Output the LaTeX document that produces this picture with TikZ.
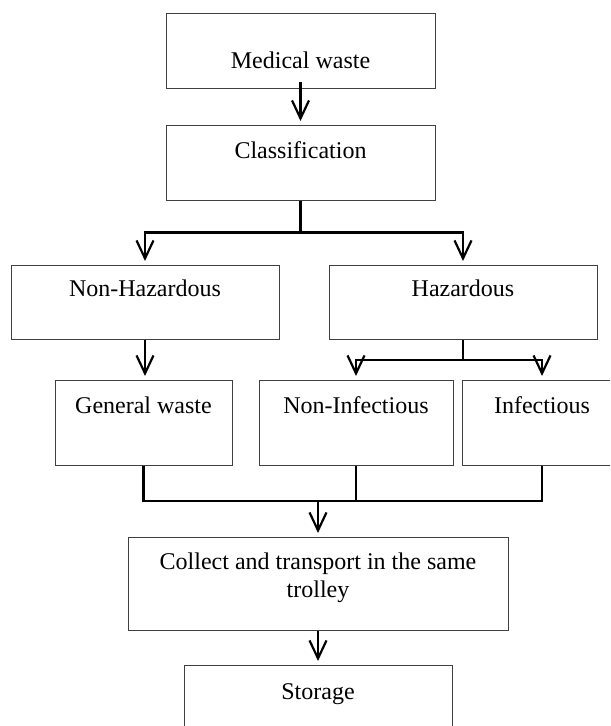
\documentclass[tikz,border=0pt]{standalone}
\usepackage{fontspec}
\setmainfont{Liberation Serif}
\usetikzlibrary{arrows.meta,positioning}

\begin{document}
\begin{tikzpicture}[x=0.5pt,y=-0.5pt,>={Straight Barb[length=9pt,width=8.5pt]},
  box node/.style={rectangle,draw=black!75,line width=0.5pt,inner sep=0pt,align=center,font=\fontsize{12}{13.8}\selectfont},
  link/.style={draw,line width=1.1pt},
  flow/.style={link,->,shorten >=2pt}]

    \clip (0,0) rectangle (610,726);

    \node[box node, anchor=north, minimum width=134.5pt, text height=27.5pt, text depth=10pt] (mw) at (300.5,13) {Medical waste};
    \node[box node, below=18pt of mw, minimum width=134.5pt, text height=16.5pt, text depth=21pt] (cls) {Classification};
    \node[box node, anchor=north, minimum width=134pt, text height=15.5pt, text depth=21.5pt] (nonhaz) at (145,265) {Non-Hazardous};
    \node[box node, anchor=north, minimum width=134pt, text height=15.5pt, text depth=21.5pt] (haz) at (463,265) {Hazardous};
    \node[box node, anchor=north, minimum width=88.5pt, text height=16.5pt, text depth=26pt] (gen) at (143.5,380) {General waste};
    \node[box node, anchor=north, minimum width=97pt, text height=16.5pt, text depth=26pt] (noninf) at (356,380) {Non-Infectious};
    \node[box node, anchor=north, minimum width=80pt, text height=16.5pt, text depth=26pt] (inf) at (542,380) {Infectious};
    \node[box node, anchor=north, minimum width=190pt, text height=30pt, text depth=16.5pt] (coll) at (318,537) {Collect and transport in the same\\trolley};
    \node[box node, below=17pt of coll, minimum width=134pt, text height=17pt, text depth=23pt] (stor) {Storage};

    \coordinate[below=15.8pt of cls.south] (split1);
    \coordinate[below=10pt of haz.south] (split2);
    \coordinate[below=17.5pt of noninf.south] (merge);

    \draw[flow] ([yshift=3.5pt]mw.south) -- (cls.north);
    \draw[link] (cls.south) -- (split1);
    \draw[flow] (split1) -| (nonhaz.north);
    \draw[flow] (split1) -| (haz.north);
    \draw[flow] (nonhaz.south) -- (nonhaz.south |- gen.north);
    \draw[link] (haz.south) -- (split2);
    \draw[flow] (split2) -| (noninf.north);
    \draw[flow] (split2) -| (inf.north);
    \draw[link] (gen.south) |- (merge) -- (merge -| inf.south) -- (inf.south);
    \draw[link] (noninf.south) -- (merge);
    \draw[flow] (merge -| coll.north) -- (coll.north);
    \draw[flow] (coll.south) -- (stor.north);

\end{tikzpicture}
\end{document}
